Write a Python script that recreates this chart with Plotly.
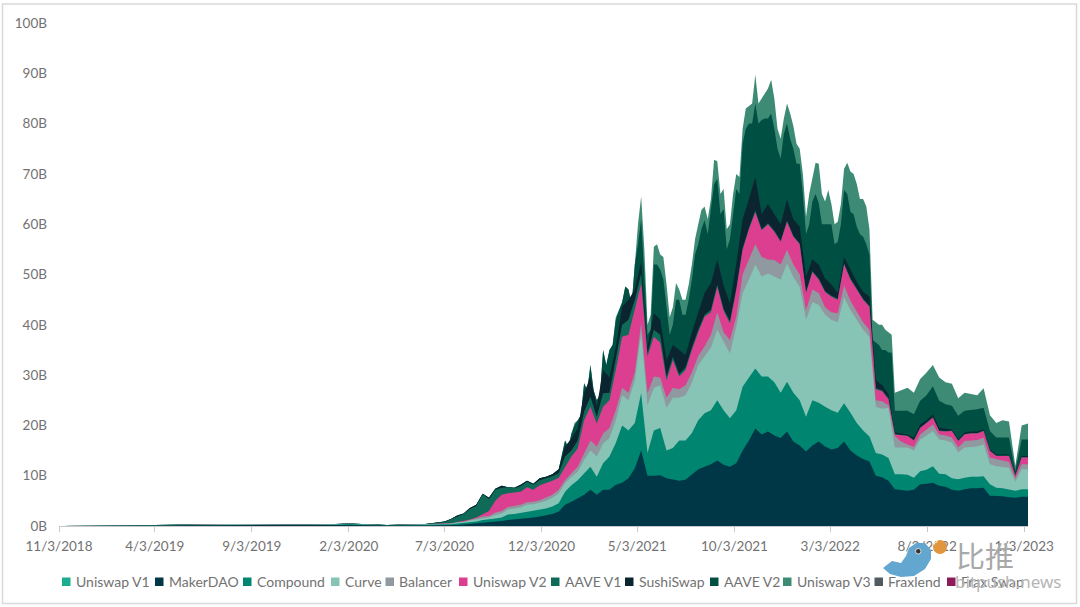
import pandas as pd
import plotly.graph_objects as go # for data visualization

# months before the chart takes off, then every 10 days
early_dates = ['2018-11-03', '2018-12-03', '2019-01-03', '2019-02-03', '2019-03-03', '2019-04-03', '2019-05-03',
               '2019-06-03', '2019-07-03', '2019-08-03', '2019-09-03', '2019-10-03', '2019-11-03', '2019-12-03',
               '2020-01-03', '2020-02-03', '2020-03-03', '2020-04-03', '2020-05-03', '2020-06-03']
dates = pd.to_datetime(early_dates).append(pd.date_range('2020-07-03', periods=93, freq='10D'))
mid_dates = pd.date_range('2021-01-14', periods=52, freq='10D') # extra readings for the spiky upper edges

# top edge of each band in the stack, in billions
uni_v1_top = [0, 0, 0, 0, .01, .03, .03, .03, .03, .03, .02, .02, .02, .02, .02, .02, .02, .02, .02, .03,
              .03, .03, .03, .03, .03, .03, .03, .03, .03, .03, .03, .03, .03, .03, .03, .03, .03, .03, .03,
              *[.02] * 74]
maker_top = [0, 0, 0, 0, .03, .1, .1, .14, .16, .18, .14, .12, .12, .12, .15, .22, .15, .08, .1, .1,
             .1, .15, .2, .3, .4, .5, .7, .8, .9, 1.0, 1.2, 1.3, 1.4, 1.5, 1.7, 1.9, 2.1, 2.4, 2.9,
             4.2, 4.8, 5.5, 6.2, 7.2, 6.2, 7.2, 7.2, 8.2, 8.6, 9.5, 11.5, 15, 10, 10, 10.1, 9.5, 9.2, 9, 9.2,
             10.2, 11.3, 11.8, 12.3, 13, 12.2, 11.8, 12.5, 15, 17, 19.4, 18.2, 18.8, 18, 17.5, 18.8, 16.8, 16,
             14.8, 16, 16.8, 15.8, 15.2, 15.5, 16.8, 15, 14, 13.3, 12.8, 10, 9.7, 9, 7.3, 7.1, 7, 7.2, 8.3,
             8.4, 8.6, 8, 7.8, 7.2, 7, 7.3, 7.5, 7.5, 7.6, 6, 6, 5.9, 5.7, 5.6, 5.8, 5.8]
compound_top = [0, 0, 0, 0, .04, .15, .15, .22, .26, .3, .22, .22, .2, .2, .26, .38, .26, .14, .2, .28,
                .25, .35, .5, .6, .8, .9, 1.2, 1.3, 1.5, 1.7, 2.3, 2.4, 2.6, 2.8, 3.0, 3.2, 3.5, 3.9, 4.5,
                6.8, 8.1, 9.1, 10.5, 11.8, 9.8, 12.5, 13.8, 16.5, 20, 19, 20.5, 26.4, 14.5, 19, 19.5, 15, 15.5,
                17, 17, 18.5, 21, 22.4, 23, 25, 23, 21.4, 23, 27.7, 29.5, 31.3, 29.7, 29.7, 28.6, 26.5, 28.7,
                26.5, 25, 21.7, 25, 24.5, 23.7, 23, 22.5, 24.4, 22.5, 20.5, 19, 17.8, 14.5, 14.2, 13.5, 10.3,
                10.3, 10.2, 9.6, 10.9, 11.2, 11.9, 10.4, 10.3, 9.5, 9.3, 9.6, 9.8, 9.8, 9.9, 8.3, 7.6, 7.5,
                7.3, 7, 7.3, 7.3]
curve_top = [0, 0, 0, 0, .04, .16, .16, .24, .29, .33, .25, .25, .24, .24, .29, .42, .29, .16, .24, .32,
             .3, .45, .7, .8, 1.1, 1.3, 1.6, 1.7, 2.2, 2.5, 3.3, 3.5, 3.7, 4.2, 4.3, 4.6, 5, 5.6, 6.5,
             8.5, 9.8, 10.8, 13.1, 15, 13.8, 16.4, 17.5, 21, 26, 25, 29, 38.3, 24, 27.5, 28, 23.5, 25.5, 25.5,
             26, 28.5, 32, 33.7, 35.5, 39, 36.5, 34.3, 39.6, 46.3, 49, 52, 49.6, 50.2, 49.6, 49, 52.2, 49.5,
             47.5, 41, 44.5, 44, 42, 41, 40.5, 45.5, 43, 41, 39, 37.6, 23.7, 23.3, 23.5, 15.6, 15.6, 15.6, 15,
             17.2, 18, 18.9, 17.2, 17, 16.6, 14.6, 15.6, 15.7, 15.8, 16.2, 12.3, 11.9, 11.8, 11.6, 8.8, 11.3,
             11.3]
balancer_top = [0, 0, 0, 0, .05, .17, .17, .25, .3, .35, .26, .26, .25, .25, .3, .44, .3, .17, .25, .33,
                .35, .5, .75, .85, 1.2, 1.5, 1.9, 2, 2.7, 3, 3.8, 4, 4.2, 4.7, 4.8, 5.1, 5.6, 6.2, 7.2,
                9.1, 10.5, 11.8, 14.4, 17, 15.8, 18.4, 19.5, 23, 27.5, 26.5, 30.5, 40.3, 26.4, 29.7, 29.5, 25.5,
                27.5, 27.2, 28, 30.5, 33.8, 35.7, 38, 42.5, 38.5, 37, 41.6, 50, 53, 56, 53.5, 53, 52.9, 52, 54.9,
                52, 50, 42.9, 47, 46.3, 43.5, 42.5, 42.3, 47.8, 44.8, 42.5, 40.5, 39, 25, 24.8, 24, 17.9, 16.8,
                16.2, 15.7, 18.2, 19.2, 20.2, 18.2, 18, 17.6, 15.6, 16.9, 17, 17.1, 17.6, 13.6, 13.3, 13, 12.7,
                9.5, 12.3, 12.3]
uni_v2_top = [0, 0, 0, 0, .05, .17, .17, .25, .3, .35, .26, .26, .25, .25, .3, .44, .3, .17, .25, .33,
              .4, .55, .8, 1, 1.3, 1.7, 2.4, 3, 5, 6.2, 6.5, 6.6, 6.8, 7.7, 7.2, 8.1, 8.5, 9, 9.6,
              11.8, 13.8, 15.4, 21, 23.7, 20.4, 23.7, 25, 31, 37.6, 38, 43, 48.2, 33.7, 37.6, 36.5, 29, 33, 29.7,
              31, 35, 38.5, 41.6, 42.5, 47.5, 42.8, 40.3, 46.9, 54.9, 59, 62.4, 58.8, 60, 58.5, 56.5, 60.5, 57.5,
              56, 46.3, 50.5, 49, 46.5, 45.6, 45, 52, 49, 47, 45, 43.6, 27.2, 26.8, 25.2, 18.2, 18, 17.9, 17,
              19.5, 20.5, 21.5, 18.9, 18.8, 18.9, 16.9, 18.2, 18.4, 18.4, 18.9, 14.9, 13.9, 13.9, 13.9, 10,
              13.6, 13.6]
aave_v1_top = [0, 0, 0, 0, .05, .18, .18, .28, .33, .38, .28, .28, .28, .28, .33, .48, .33, .19, .28, .38,
               .8, 1.3, 1.9, 2.4, 3.4, 4, 6.3, 5.3, 7.2, 7.6, 7.7, 7.5, 7.9, 8.8, 8.2, 9.1, 9.5, 9.9, 10.5,
               13.8, 15, 17, 22.7, 25.7, 21.7, 26.4, 26.5, 33, 40, 41, 45, 50.2, 34.3, 39, 38, 29.7, 33.6, 30.2,
               31.5, 35.5, 39, 42, 43, 48, 43.2, 40.7, 47.2, 55.2, 59.3, 62.7, 59, 60.2, 58.7, 56.7, 60.7, 57.7,
               56.2, 46.5, 50.7, 49.2, 46.7, 45.8, 45.2, 52.2, 49.2, 47.2, 45.2, 43.8, 27.4, 27, 25.4, 18.3, 18.1,
               18, 17.1, 19.6, 20.6, 21.6, 19, 18.9, 19, 17, 18.3, 18.5, 18.5, 19, 15, 14, 14, 14, 10.1, 13.7, 13.7]
sushi_top = [0, 0, 0, 0, .05, .2, .2, .3, .35, .4, .3, .3, .3, .3, .35, .5, .35, .2, .3, .4,
             .9, 1.4, 2.1, 2.5, 3.6, 4.2, 6.4, 5.6, 7.4, 8, 7.7, 7.6, 8.2, 9, 8.4, 9.5, 9.8, 10.3, 11.3,
             15.8, 17.4, 19.4, 26.4, 29.7, 23.7, 31, 29.5, 35.6, 43.6, 45, 47, 52.5, 35.6, 42.3, 41, 33, 36, 35,
             34, 38.5, 42.5, 46.3, 48.2, 53, 47.8, 44.3, 52.2, 61, 65, 69.4, 62, 64, 62, 60, 64.8, 61, 59.5,
             49.6, 53, 52, 49.2, 48, 46.3, 53.5, 51, 48.5, 46.5, 45.6, 29, 28, 26.2, 18.6, 18.4, 18.2, 17.6,
             20.2, 21, 22.2, 19.5, 19.3, 19.2, 17.2, 18.6, 18.8, 18.8, 19.2, 15.2, 14.2, 14.2, 14.2, 10.3, 13.9,
             13.9]
aave_v2_top = [0, 0, 0, 0, .05, .2, .2, .3, .35, .4, .3, .3, .3, .3, .35, .5, .35, .2, .3, .4,
               .9, 1.4, 2.1, 2.5, 3.6, 4.2, 6.4, 5.6, 7.4, 8, 7.7, 7.6, 8.2, 9, 8.4, 9.5, 9.8, 10.3, 11.3,
               17, 18.4, 21, 28.4, 32, 25, 35, 35, 41, 44.5, 47, 52, 61, 38, 52, 51, 43, 40, 45, 42, 49, 56, 60.8,
               63, 69, 63, 57, 67, 76, 80, 84, 80.7, 81, 79, 73, 80, 75, 72, 58, 64.5, 64.2, 60, 60, 56.5, 66.8,
               62.5, 59.5, 57.5, 54, 36.5, 35, 34.5, 22.9, 22.9, 22.9, 22.2, 24.9, 26, 27.8, 24.9, 24.2, 23.9,
               21.9, 22.9, 23, 23.2, 23.5, 18.9, 17.6, 17.6, 17.6, 11, 17.2, 17.2]
uni_v3_top = [0, 0, 0, 0, .05, .2, .2, .3, .35, .4, .3, .3, .3, .3, .35, .5, .35, .2, .3, .4,
              .9, 1.4, 2.1, 2.5, 3.6, 4.2, 6.4, 5.6, 7.4, 8, 7.7, 7.6, 8.2, 9, 8.4, 9.5, 9.8, 10.3, 11.3,
              17, 18.4, 21, 28.4, 32, 25, 35, 35, 41.5, 44.5, 47, 52, 65.5, 40, 55.5, 54, 48, 43.5, 47, 45, 52, 60,
              63.5, 65, 72.5, 67, 60, 70, 79, 83.5, 89.7, 85, 87, 85, 77, 84, 79.5, 75, 61.5, 69, 72, 64.5, 64,
              60.5, 71, 70.5, 68, 65, 59, 40.5, 40, 38.5, 26.5, 27, 27.5, 26.5, 29.2, 30.5, 32, 29.5, 28.6, 28.3,
              25.4, 26.5, 26.3, 26, 27.4, 22, 20.5, 21, 20.8, 12, 20, 20.4]

# readings between the 10 day points
aave_v2_mid = [15, 20, 22, 27, 27, 26, 32, 36, 43, 47.6, 44, 56, 50, 39, 52, 49, 38, 45, 42, 45, 54, 59, 58, 68, 62, 55,
               62, 66, 79, 80, 80, 81, 82, 75, 78, 77, 72, 66, 60, 66, 60, 60, 56, 60, 66, 62, 58, 56, 37, 36, 35, 34.5]
uni_v3_mid = [16, 20.5, 22, 27, 27, 26, 32, 36, 43, 47.6, 44, 60, 55, 42, 56, 53.5, 41.5, 48.3, 45, 48, 57, 62.8, 61, 72.8,
              66, 59, 66, 69.4, 83, 84, 84, 86, 88.7, 79, 81, 82, 76, 70, 66, 72.2, 66, 66.8, 60, 64, 72.2, 70, 65, 63.5,
              41, 40, 39, 38]

# tick labels
x_tickvals = ['2018-11-03', '2019-04-03', '2019-09-03', '2020-02-03', '2020-07-03', '2020-12-03',
              '2021-05-03', '2021-10-03', '2022-03-03', '2022-08-03', '2023-01-03']
x_ticktext = ['11/3/2018', '4/3/2019', '9/3/2019', '2/3/2020', '7/3/2020', '12/3/2020',
              '5/3/2021', '10/3/2021', '3/3/2022', '8/3/2022', '1/3/2023']
y_tickvals = [0, 10, 20, 30, 40, 50, 60, 70, 80, 90, 100]
y_ticktext = ['0B', '10B', '20B', '30B', '40B', '50B', '60B', '70B', '80B', '90B', '100B']

# legend names, colours and left edge of each swatch
legend_names = ['Uniswap V1', 'MakerDAO', 'Compound', 'Curve', 'Balancer', 'Uniswap V2',
                'AAVE V1', 'SushiSwap', 'AAVE V2', 'Uniswap V3', 'Fraxlend', 'Frax Swap']
legend_colors = ['#1aad8f', '#003746', '#008570', '#87c4b5', '#8f999f', '#dc3f8f',
                 '#0f6b57', '#0a2530', '#004f43', '#3e8b75', '#515a60', '#8e1a5a']
legend_left = [62, 155, 243, 331, 385.5, 459, 551, 625, 710, 783, 874.5, 947]

text_color = '#727272'


def px(x):
    return (x - 59) / (1028 - 59) # window pixel to paper x


def py(y):
    return (526 - y) / (526 - 23) # window pixel to paper y


uni_v3 = pd.concat([pd.Series(uni_v3_top, index=dates), pd.Series(uni_v3_mid, index=mid_dates)]).sort_index()
aave_v2 = pd.concat([pd.Series(aave_v2_top, index=dates), pd.Series(aave_v2_mid, index=mid_dates)]).sort_index()

fig = go.Figure()

# tallest band first, each lower band paints over the one above it
bands = [uni_v3, aave_v2] + [pd.Series(top, index=dates) for top in [sushi_top, aave_v1_top, uni_v2_top, balancer_top,
                                                                     curve_top, compound_top, maker_top, uni_v1_top]]
band_names = legend_names[:10][::-1]
band_colors = legend_colors[:10][::-1]
for top, name, color in zip(bands, band_names, band_colors):
    fig.add_traces(go.Scatter(x=top.index, y=top.values, name=name, mode='lines', line=dict(color=color, width=0),
                              fill='tozeroy', fillcolor=color, showlegend=False))

# swatches and names of the legend
for name, color, left in zip(legend_names, legend_colors, legend_left):
    fig.add_shape(type='rect', xref='paper', yref='paper', x0=px(left), x1=px(left + 8.5), y0=py(586), y1=py(577.5),
                  fillcolor=color, line=dict(width=0))
    fig.add_annotation(xref='paper', yref='paper', x=px(left + 12.5), y=py(581.5), text=name, showarrow=False,
                       xanchor='left', yanchor='middle', xshift=-1, font=dict(size=14, color=text_color))

# frame around the chart
fig.add_shape(type='rect', xref='paper', yref='paper', x0=px(2.5), x1=px(1076.5), y0=py(603.5), y1=py(4),
              line=dict(color='#d9d9d9', width=1.5), layer='below')

# watermark in the corner
bird = [(883, 568), (892, 561), (901, 563), (906, 556), (909, 548), (916, 543), (925, 543), (931, 550),
        (931, 559), (925, 569), (914, 576), (901, 577), (890, 574)]
bird_path = 'M ' + ' L '.join('{} {}'.format(px(x), py(y)) for x, y in bird) + ' Z'
fig.add_shape(type='path', xref='paper', yref='paper', path=bird_path, fillcolor='#63a7d0', line=dict(width=0))
fig.add_shape(type='circle', xref='paper', yref='paper', x0=px(915.5), x1=px(921), y0=py(554), y1=py(548.5),
              fillcolor='#333333', line=dict(color='#dddddd', width=1))
fig.add_shape(type='circle', xref='paper', yref='paper', x0=px(933), x1=px(947), y0=py(554), y1=py(540),
              fillcolor='#e0963c', line=dict(width=0))
fig.add_annotation(xref='paper', yref='paper', x=px(940), y=py(547), text='₿', showarrow=False,
                   font=dict(size=10, color='white'))
fig.add_annotation(xref='paper', yref='paper', x=px(954), y=py(555), text='比推', showarrow=False, xanchor='left',
                   yanchor='middle', font=dict(family='Noto Sans CJK SC', size=29, color='#a8a8a8'))
fig.add_annotation(xref='paper', yref='paper', x=px(953), y=py(581.5), text='bitpush.news', showarrow=False,
                   xanchor='left', yanchor='middle', font=dict(family='Noto Sans', size=17, color='#b5b5b5'))

# change chart background color
fig.update_layout(dict(plot_bgcolor='white', paper_bgcolor='white'))
fig.update_layout(width=1080, height=607, margin=dict(l=59, r=52, t=23, b=81), showlegend=False,
                  font=dict(family='Lato', size=13.5, color=text_color))

# update axes lines
fig.update_xaxes(range=['2018-11-03', '2023-01-09'], tickmode='array', tickvals=x_tickvals, ticktext=x_ticktext,
                 showgrid=False, zeroline=False, showline=True, linewidth=1, linecolor='#c8c8c8',
                 ticks='outside', ticklen=5, tickcolor='#c8c8c8', tickangle=0, ticklabelstandoff=3)
fig.update_yaxes(range=[0, 100], tickmode='array', tickvals=y_tickvals, ticktext=y_ticktext,
                 showgrid=False, zeroline=False, showline=False, ticks='', ticklabelstandoff=11)

fig.write_html('out.html', post_script="document.body.style.margin = '0';", config=dict(displayModeBar=False))
